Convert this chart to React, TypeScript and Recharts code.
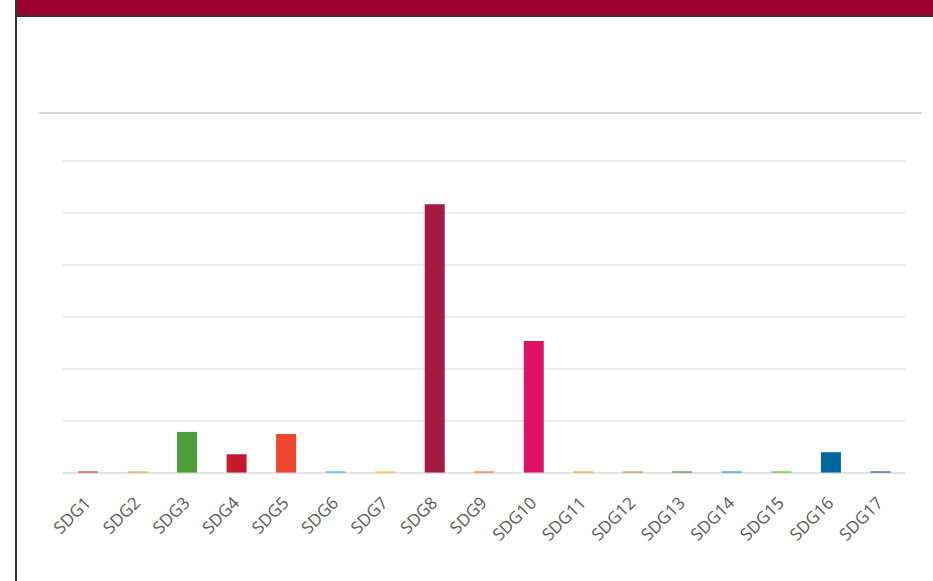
import { Bar, BarChart, CartesianGrid, Cell, XAxis, YAxis } from 'recharts'

const goals = [
  'SDG1', 'SDG2', 'SDG3', 'SDG4', 'SDG5', 'SDG6', 'SDG7', 'SDG8', 'SDG9',
  'SDG10', 'SDG11', 'SDG12', 'SDG13', 'SDG14', 'SDG15', 'SDG16', 'SDG17',
]

// values (no axis labels in the picture, one gridline = 10)
const counts = [0.3, 0.3, 7.9, 3.6, 7.5, 0.3, 0.3, 51.7, 0.3, 25.4, 0.3, 0.3, 0.3, 0.3, 0.3, 4.0, 0.3]

const goalColors = [
  '#E5243B', '#DDA63A', '#4C9F38', '#C5192D', '#EF4430', '#26BDE2', '#FCC30B', '#A21942', '#FD6925',
  '#DD1367', '#FD9D24', '#BF8B2E', '#3F7E44', '#0A97D9', '#56C02B', '#00689D', '#19486A',
]

const yTicks = [0, 10, 20, 30, 40, 50, 60]

const data = goals.map((goal, i) => ({ goal, count: counts[i] }))

const renderGoalTick = (props: any) => {
  const { x, y, payload, index } = props
  return (
    <g key={`tick-${index}`} transform={`translate(${x + 4},${y + 31}) rotate(-45)`}>
      <text x={0} y={0} textAnchor="end" fill="#595959" fontSize={17} fontFamily="'Open Sans', sans-serif">
        {payload.value}
      </text>
    </g>
  )
}

export default function App() {
  return (
    <div style={{ position: 'absolute', left: 0, top: 0, width: 933, height: 581, background: '#fff', overflow: 'hidden' }}>
      {/* header strip and frame */}
      <div style={{ position: 'absolute', left: 15, top: 0, width: 2, height: 581, background: '#333' }} />
      <div
        style={{
          position: 'absolute',
          left: 17,
          top: 0,
          width: 916,
          height: 15,
          background: '#9B002F',
          borderBottom: '2px solid #333',
        }}
      />
      <div style={{ position: 'absolute', left: 39, top: 112, width: 883, height: 2, background: '#d9d9d9' }} />

      <div style={{ position: 'absolute', left: 0, top: 0 }}>
        <BarChart
          width={933}
          height={581}
          data={data}
          margin={{ top: 161, right: 28, bottom: 0, left: 63 }}
        >
          <CartesianGrid vertical={false} stroke="#d9d9d9" />
          <YAxis hide domain={[0, 60]} ticks={yTicks} />
          <XAxis
            dataKey="goal"
            height={108}
            interval={0}
            tickLine={false}
            tickSize={0}
            tickMargin={0}
            axisLine={{ stroke: '#d9d9d9' }}
            tick={renderGoalTick}
          />
          <Bar dataKey="count" barSize={20} isAnimationActive={false}>
            {data.map((entry, index) => (
              <Cell key={`cell-${entry.goal}`} fill={goalColors[index]} />
            ))}
          </Bar>
        </BarChart>
      </div>
    </div>
  )
}
